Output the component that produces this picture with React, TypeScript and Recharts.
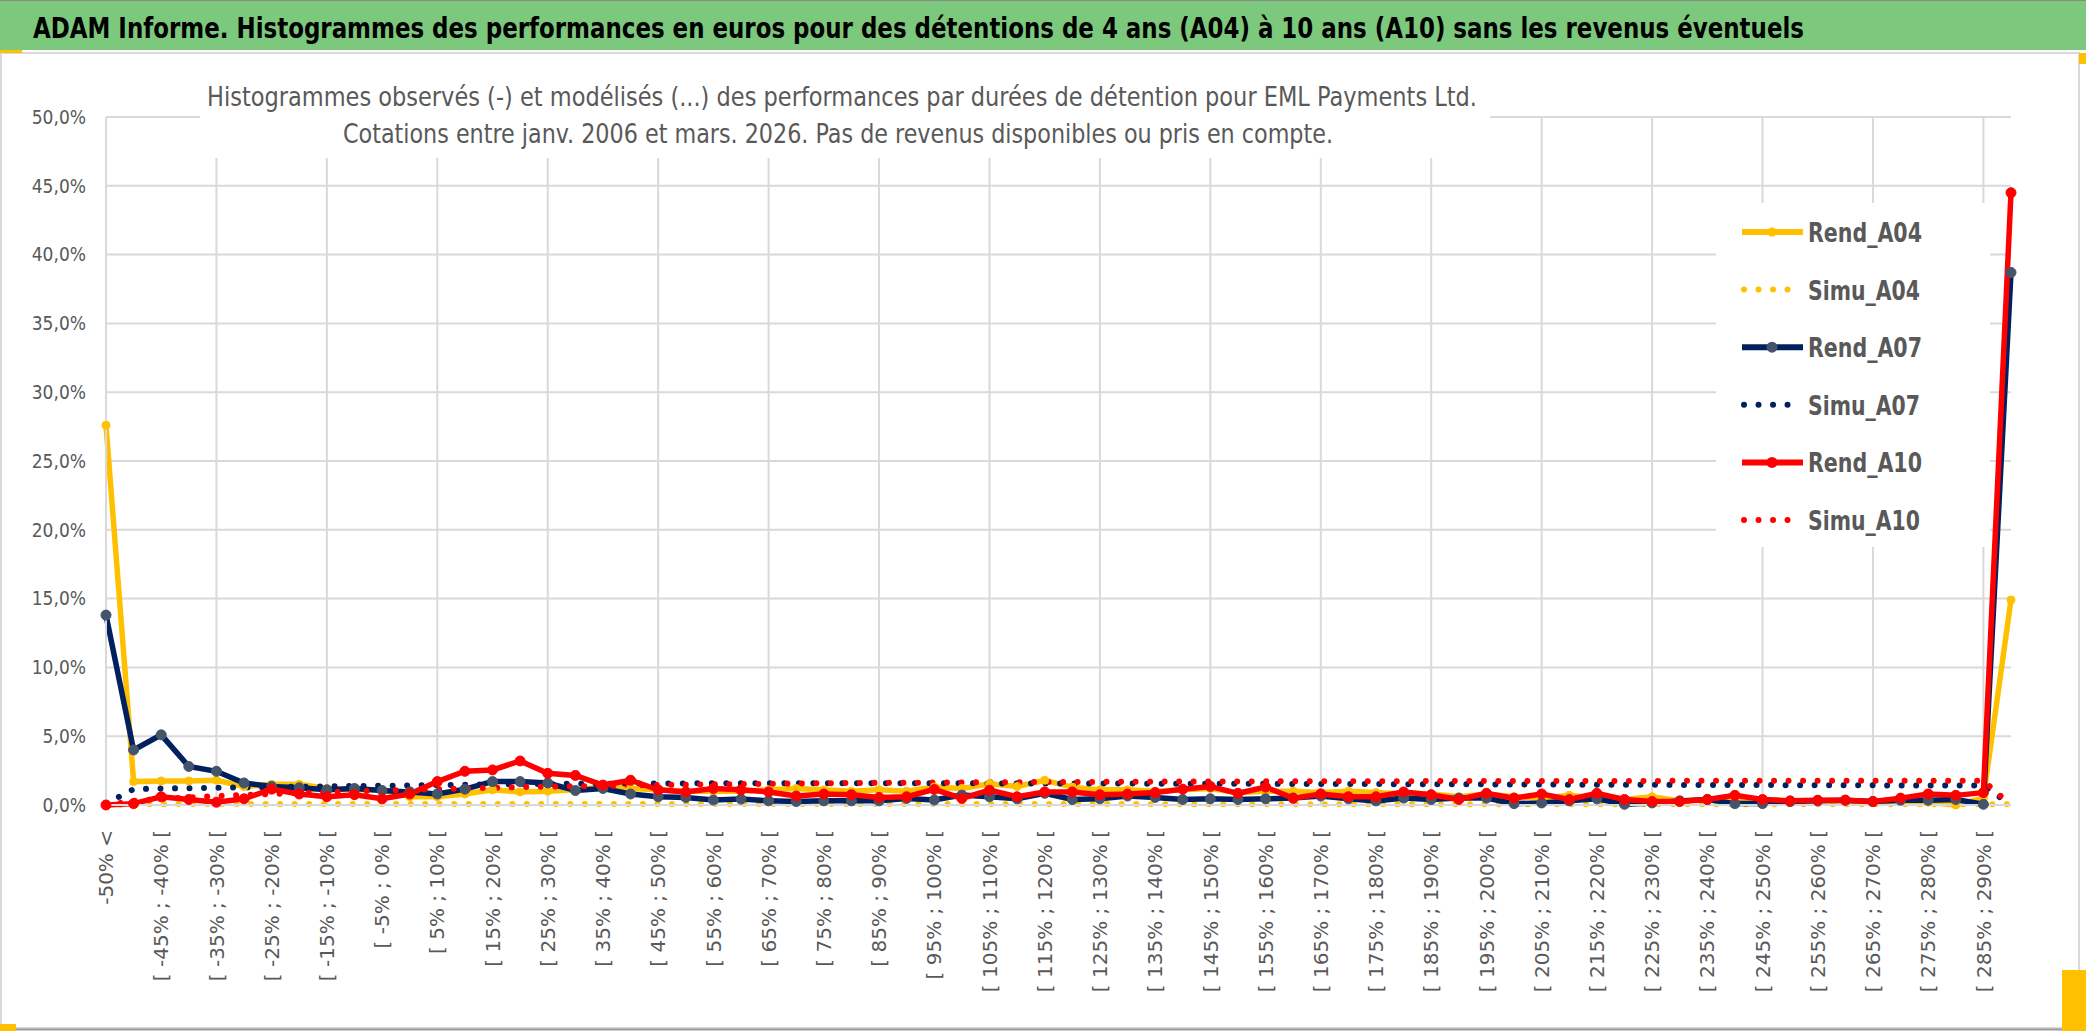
import React from "react";
import {
  LineChart,
  Line,
  XAxis,
  YAxis,
  CartesianGrid,
  ReferenceLine,
  Legend,
} from "recharts";

const categories: string[] = [
  "-50% <",
  "[ -50% ; -45% [", "[ -45% ; -40% [", "[ -40% ; -35% [", "[ -35% ; -30% [",
  "[ -30% ; -25% [", "[ -25% ; -20% [", "[ -20% ; -15% [", "[ -15% ; -10% [",
  "[ -10% ; -5% [", "[ -5% ; 0% [", "[ 0% ; 5% [", "[ 5% ; 10% [",
  "[ 10% ; 15% [", "[ 15% ; 20% [", "[ 20% ; 25% [", "[ 25% ; 30% [",
  "[ 30% ; 35% [", "[ 35% ; 40% [", "[ 40% ; 45% [", "[ 45% ; 50% [",
  "[ 50% ; 55% [", "[ 55% ; 60% [", "[ 60% ; 65% [", "[ 65% ; 70% [",
  "[ 70% ; 75% [", "[ 75% ; 80% [", "[ 80% ; 85% [", "[ 85% ; 90% [",
  "[ 90% ; 95% [", "[ 95% ; 100% [", "[ 100% ; 105% [", "[ 105% ; 110% [",
  "[ 110% ; 115% [", "[ 115% ; 120% [", "[ 120% ; 125% [", "[ 125% ; 130% [",
  "[ 130% ; 135% [", "[ 135% ; 140% [", "[ 140% ; 145% [", "[ 145% ; 150% [",
  "[ 150% ; 155% [", "[ 155% ; 160% [", "[ 160% ; 165% [", "[ 165% ; 170% [",
  "[ 170% ; 175% [", "[ 175% ; 180% [", "[ 180% ; 185% [", "[ 185% ; 190% [",
  "[ 190% ; 195% [", "[ 195% ; 200% [", "[ 200% ; 205% [", "[ 205% ; 210% [",
  "[ 210% ; 215% [", "[ 215% ; 220% [", "[ 220% ; 225% [", "[ 225% ; 230% [",
  "[ 230% ; 235% [", "[ 235% ; 240% [", "[ 240% ; 245% [", "[ 245% ; 250% [",
  "[ 250% ; 255% [", "[ 255% ; 260% [", "[ 260% ; 265% [", "[ 265% ; 270% [",
  "[ 270% ; 275% [", "[ 275% ; 280% [", "[ 280% ; 285% [", "[ 285% ; 290% [",
  "> 290%",
];

// values in %
const rendA04 = [
  27.6, 1.7, 1.75, 1.75, 1.8, 1.35, 1.5, 1.5, 1.2, 1.1,
  1.1, 0.6, 0.6, 0.8, 1.1, 0.95, 1.0, 1.1, 1.3, 1.2,
  1.1, 1.0, 1.0, 1.0, 1.1, 1.2, 1.1, 1.0, 1.1, 1.0,
  1.3, 1.2, 1.55, 1.35, 1.8, 1.3, 1.1, 1.1, 1.0, 1.1,
  1.2, 0.9, 1.0, 1.0, 0.9, 1.0, 0.9, 0.8, 0.8, 0.6,
  0.8, 0.6, 0.5, 0.7, 0.5, 0.4, 0.6, 0.3, 0.4, 0.5,
  0.4, 0.3, 0.3, 0.3, 0.2, 0.3, 0.2, 0.0, 0.5, 14.9,
];

const simuA04 = [
  0.0, 0.05, 0.06, 0.07, 0.07, 0.08, 0.08, 0.08, 0.08, 0.08,
  0.08, 0.08, 0.08, 0.08, 0.08, 0.08, 0.08, 0.08, 0.08, 0.08,
  0.08, 0.08, 0.08, 0.08, 0.08, 0.07, 0.07, 0.07, 0.07, 0.07,
  0.07, 0.07, 0.07, 0.07, 0.07, 0.07, 0.07, 0.07, 0.06, 0.06,
  0.06, 0.06, 0.06, 0.06, 0.06, 0.06, 0.06, 0.06, 0.06, 0.06,
  0.06, 0.05, 0.05, 0.05, 0.05, 0.05, 0.05, 0.05, 0.05, 0.05,
  0.05, 0.05, 0.05, 0.05, 0.05, 0.05, 0.05, 0.05, 0.05, 0.05,
];

const rendA07 = [
  13.8, 4.0, 5.1, 2.8, 2.45, 1.6, 1.35, 1.25, 1.1, 1.2,
  1.05, 0.95, 0.8, 1.15, 1.7, 1.7, 1.6, 1.05, 1.2, 0.8,
  0.6, 0.55, 0.36, 0.43, 0.3, 0.25, 0.3, 0.3, 0.3, 0.48,
  0.36, 0.72, 0.6, 0.45, 0.85, 0.4, 0.45, 0.65, 0.55, 0.4,
  0.45, 0.4, 0.45, 0.5, 0.65, 0.45, 0.3, 0.5, 0.4, 0.5,
  0.5, 0.1, 0.15, 0.3, 0.45, 0.05, 0.15, 0.3, 0.4, 0.1,
  0.1, 0.25, 0.3, 0.35, 0.25, 0.35, 0.35, 0.4, 0.05, 38.7,
];

const simuA07 = [
  0.1, 1.15, 1.2, 1.22, 1.25, 1.28, 1.3, 1.33, 1.35, 1.38,
  1.4, 1.42, 1.45, 1.47, 1.5, 1.52, 1.53, 1.55, 1.55, 1.56,
  1.57, 1.57, 1.58, 1.58, 1.58, 1.58, 1.58, 1.58, 1.58, 1.58,
  1.58, 1.58, 1.57, 1.57, 1.57, 1.56, 1.56, 1.56, 1.55, 1.55,
  1.55, 1.54, 1.54, 1.53, 1.53, 1.52, 1.52, 1.51, 1.51, 1.5,
  1.5, 1.49, 1.49, 1.48, 1.48, 1.47, 1.47, 1.46, 1.46, 1.45,
  1.45, 1.44, 1.44, 1.43, 1.43, 1.42, 1.42, 1.41, 1.41, 0.0,
];

const rendA10 = [
  0.0, 0.1, 0.6, 0.4, 0.2, 0.45, 1.15, 0.8, 0.6, 0.75,
  0.45, 0.8, 1.7, 2.45, 2.55, 3.2, 2.3, 2.15, 1.45, 1.8,
  1.1, 0.95, 1.2, 1.1, 0.95, 0.65, 0.8, 0.75, 0.55, 0.6,
  1.13, 0.48, 1.08, 0.6, 0.95, 0.95, 0.75, 0.8, 0.9, 1.15,
  1.35, 0.85, 1.3, 0.5, 0.8, 0.6, 0.6, 0.95, 0.75, 0.4,
  0.85, 0.5, 0.8, 0.4, 0.85, 0.4, 0.25, 0.25, 0.4, 0.7,
  0.4, 0.3, 0.35, 0.35, 0.25, 0.5, 0.8, 0.7, 0.9, 44.5,
];

const simuA10 = [
  0.0, 0.3, 0.45, 0.55, 0.65, 0.72, 0.8, 0.87, 0.93, 1.0,
  1.05, 1.1, 1.15, 1.2, 1.25, 1.3, 1.33, 1.36, 1.39, 1.42,
  1.45, 1.48, 1.5, 1.52, 1.54, 1.56, 1.58, 1.6, 1.61, 1.62,
  1.63, 1.64, 1.65, 1.66, 1.67, 1.68, 1.68, 1.69, 1.7, 1.7,
  1.71, 1.71, 1.72, 1.72, 1.72, 1.73, 1.73, 1.73, 1.74, 1.74,
  1.74, 1.74, 1.75, 1.75, 1.75, 1.75, 1.75, 1.76, 1.76, 1.76,
  1.76, 1.76, 1.76, 1.76, 1.76, 1.76, 1.76, 1.76, 1.76, 0.0,
];

const yTicks = [0, 5, 10, 15, 20, 25, 30, 35, 40, 45, 50];

const bannerText =
  "ADAM Informe. Histogrammes des performances en euros pour des détentions de 4 ans (A04) à 10 ans (A10) sans les revenus éventuels";
const titleLine1 =
  "Histogrammes observés (-) et modélisés (...) des performances par durées de détention pour EML Payments Ltd.";
const titleLine2 =
  "Cotations entre janv. 2006 et mars. 2026. Pas de revenus disponibles ou pris en compte.";

const YELLOW = "#FFC000";
const NAVY = "#002060";
const NAVY_MARK = "#44546A";
const RED = "#FF0000";
const GRID = "#d9d9d9";
const TEXT = "#595959";
const NARROW = "'Liberation Sans Narrow', 'DejaVu Sans Condensed', sans-serif";

const series = [
  { key: "Rend_A04", color: YELLOW, dotted: false, mark: YELLOW, r: 4, w: 114 },
  { key: "Simu_A04", color: YELLOW, dotted: true, mark: YELLOW, r: 0, w: 112 },
  { key: "Rend_A07", color: NAVY, dotted: false, mark: NAVY_MARK, r: 5, w: 114 },
  { key: "Simu_A07", color: NAVY, dotted: true, mark: NAVY, r: 0, w: 112 },
  { key: "Rend_A10", color: RED, dotted: false, mark: RED, r: 5, w: 114 },
  { key: "Simu_A10", color: RED, dotted: true, mark: RED, r: 0, w: 112 },
];

const data = categories.map((cat, i) => ({
  cat,
  Rend_A04: rendA04[i],
  Simu_A04: simuA04[i],
  Rend_A07: rendA07[i],
  Simu_A07: simuA07[i],
  Rend_A10: rendA10[i],
  Simu_A10: simuA10[i],
}));

// vertical gridlines every 4th category
const gridCats = categories.filter((_, i) => i % 4 === 0);

function XTick(props: any) {
  const { x, y, payload } = props;
  return (
    <text
      x={x}
      y={y}
      transform={`rotate(-90 ${x} ${y})`}
      textAnchor="end"
      dy="0.36em"
      fontSize={20}
      fill={TEXT}
      fontFamily="'DejaVu Sans', sans-serif"
    >
      {payload.value}
    </text>
  );
}

function LegendBox() {
  return (
    <svg width={274} height={344} style={{ display: "block" }}>
      <rect x={0} y={0} width={274} height={344} fill="#fff" />
      {series.map((s, i) => {
        const cy = 29 + i * 57.6;
        return (
          <g key={s.key}>
            {s.dotted ? (
              <line
                x1={28}
                y1={cy}
                x2={s.key === "Simu_A10" ? 86 : 76}
                y2={cy}
                stroke={s.color}
                strokeWidth={6}
                strokeLinecap="round"
                strokeDasharray="0.01 14.5"
              />
            ) : (
              <>
                <line x1={26} y1={cy} x2={87} y2={cy} stroke={s.color} strokeWidth={6} />
                <circle cx={56} cy={cy} r={s.r + 0.5} fill={s.mark} />
              </>
            )}
            <text
              x={92}
              y={cy + 10}
              fontSize={27}
              fontWeight="bold"
              fill={TEXT}
              fontFamily={NARROW}
              textLength={s.w}
              lengthAdjust="spacingAndGlyphs"
            >
              {s.key}
            </text>
          </g>
        );
      })}
    </svg>
  );
}

export default function App() {
  return (
    <div
      style={{
        position: "absolute",
        left: 0,
        top: 0,
        width: 2086,
        height: 1031,
        background: "#fff",
        overflow: "hidden",
      }}
    >
      <LineChart
        width={2086}
        height={1031}
        data={data}
        margin={{ top: 117, right: 75, bottom: 26, left: 26 }}
      >
        <CartesianGrid vertical={false} stroke={GRID} strokeWidth={2} />
        {gridCats.map((c) => (
          <ReferenceLine key={c} x={c} stroke={GRID} strokeWidth={2} />
        ))}
        <XAxis
          dataKey="cat"
          interval={1}
          height={200}
          tickLine={false}
          tickSize={0}
          tickMargin={25}
          axisLine={{ stroke: GRID, strokeWidth: 2 }}
          tick={<XTick />}
        />
        <YAxis
          width={80}
          domain={[0, 50]}
          ticks={yTicks}
          tickLine={false}
          tickSize={0}
          tickMargin={20}
          axisLine={{ stroke: GRID, strokeWidth: 2 }}
          tickFormatter={(v: number) => v.toFixed(1).replace(".", ",") + "%"}
          tick={{ fill: TEXT, fontSize: 19, fontFamily: NARROW }}
        />
        <Legend
          layout="vertical"
          align="center"
          verticalAlign="middle"
          content={() => <LegendBox />}
          wrapperStyle={{ left: 1716, top: 203, width: 274, height: 344 }}
        />
        {series.map((s) =>
          s.dotted ? (
            <Line
              key={s.key}
              type="linear"
              dataKey={s.key}
              stroke={s.color}
              strokeWidth={6}
              strokeLinecap="round"
              strokeDasharray="0.01 14.5"
              dot={false}
              activeDot={false}
              isAnimationActive={false}
            />
          ) : (
            <Line
              key={s.key}
              type="linear"
              dataKey={s.key}
              stroke={s.color}
              strokeWidth={5.5}
              dot={{ r: s.r, fill: s.mark, stroke: s.mark, strokeWidth: 1 }}
              activeDot={false}
              isAnimationActive={false}
            />
          )
        )}
      </LineChart>

      <svg
        width={2086}
        height={1031}
        style={{ position: "absolute", left: 0, top: 0, pointerEvents: "none" }}
      >
        {/* banner */}
        <rect x={0} y={0} width={2086} height={50} fill="#7CC87C" />
        <line x1={0} y1={0.5} x2={2086} y2={0.5} stroke="#8a8a8a" strokeWidth={1} />
        <text
          x={33}
          y={38}
          fontSize={28}
          fontWeight="bold"
          fill="#000"
          fontFamily={NARROW}
          textLength={1771}
          lengthAdjust="spacingAndGlyphs"
        >
          {bannerText}
        </text>
        {/* chart frame */}
        <rect x={1} y={53} width={2078} height={975} fill="none" stroke={GRID} strokeWidth={2} />
        <line x1={0} y1={1029.5} x2={2086} y2={1029.5} stroke="#9a9a9a" strokeWidth={2} />
        <rect x={0} y={50} width={22} height={3} fill={YELLOW} />
        <rect x={0} y={1024} width={16} height={7} fill={YELLOW} />
        <rect x={2062} y={970} width={24} height={61} fill={YELLOW} />
        <rect x={2079} y={53} width={7} height={11} fill={YELLOW} />
        {/* chart title */}
        <rect x={200} y={60} width={1290} height={98} fill="#fff" />
        <text
          x={842}
          y={106}
          textAnchor="middle"
          fontSize={27}
          fill={TEXT}
          fontFamily={NARROW}
          textLength={1270}
          lengthAdjust="spacingAndGlyphs"
        >
          {titleLine1}
        </text>
        <text
          x={838}
          y={143}
          textAnchor="middle"
          fontSize={27}
          fill={TEXT}
          fontFamily={NARROW}
          textLength={990}
          lengthAdjust="spacingAndGlyphs"
        >
          {titleLine2}
        </text>
      </svg>
    </div>
  );
}
